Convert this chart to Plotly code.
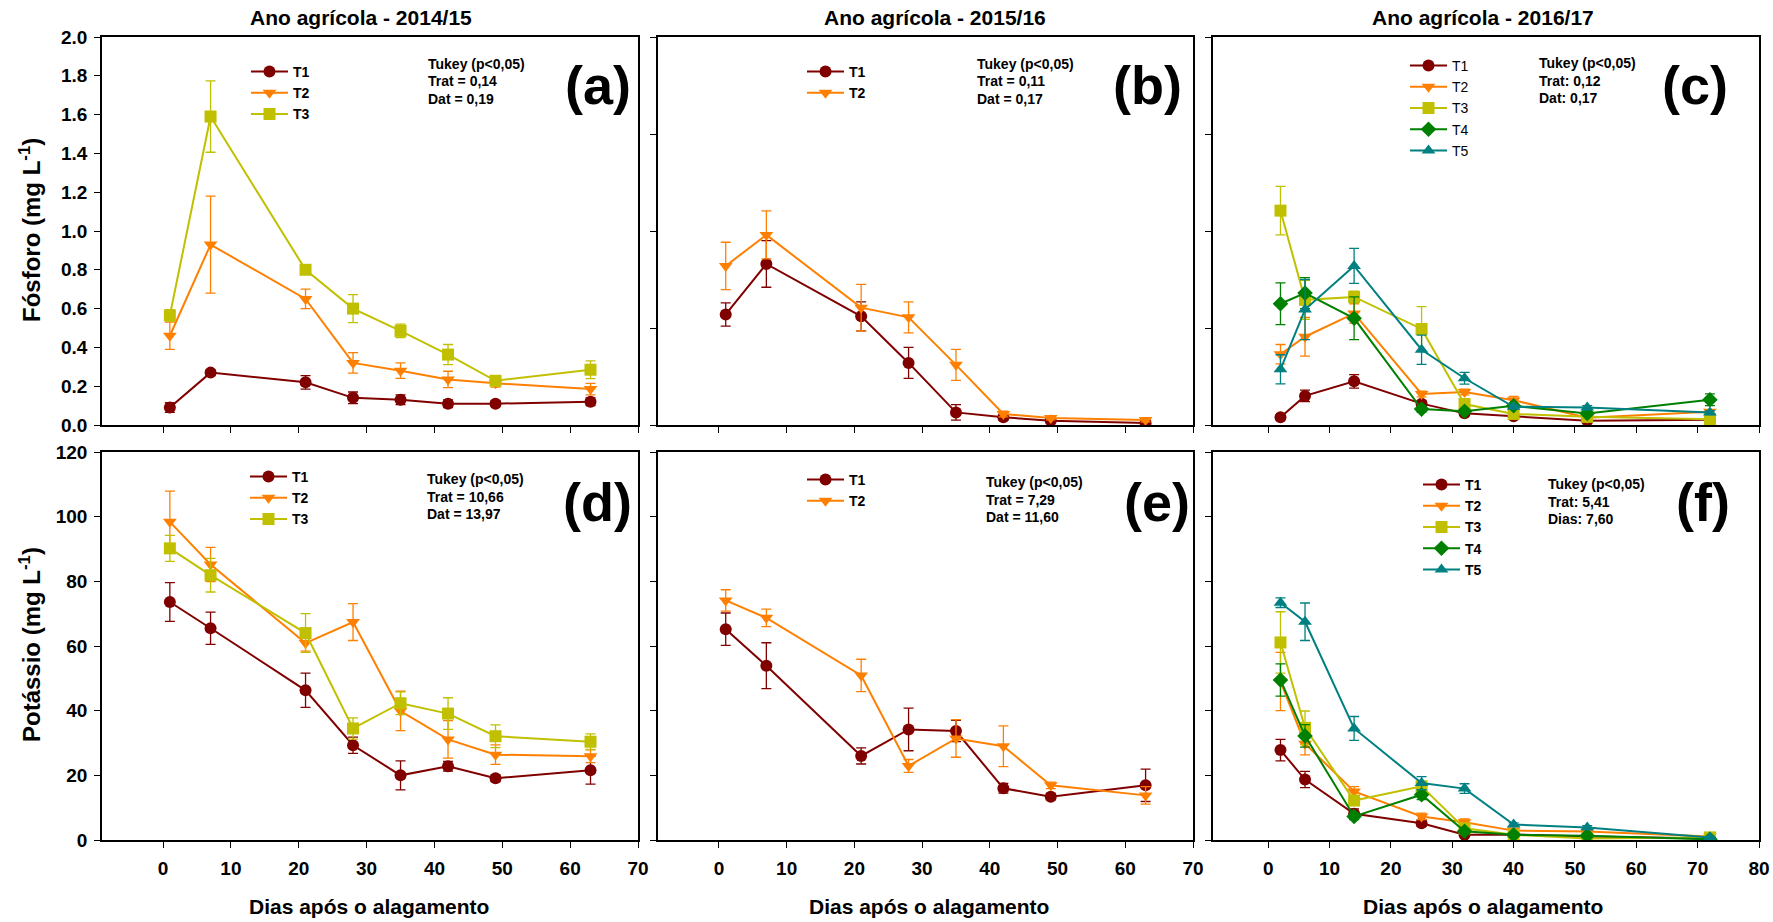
import plotly.graph_objects as go

W, H = 1773, 922

# Sampling days after flooding
days_14 = [1, 7, 21, 28, 35, 42, 49, 63]
days_15 = [1, 7, 21, 28, 35, 42, 49, 63]
days_16 = [2, 6, 14, 25, 32, 40, 52, 72]

# Phosphorus (mg L-1), 2014/15
p14_t1 = [0.09, 0.27, 0.22, 0.14, 0.13, 0.11, 0.11, 0.12]
p14_t1_se = [0.025, 0.015, 0.035, 0.03, 0.025, 0.02, 0.015, 0.02]
p14_t2 = [0.46, 0.93, 0.65, 0.32, 0.28, 0.235, 0.215, 0.185]
p14_t2_se = [0.07, 0.25, 0.05, 0.053, 0.04, 0.042, 0.02, 0.03]
p14_t3 = [0.565, 1.59, 0.80, 0.60, 0.485, 0.363, 0.228, 0.285]
p14_t3_se = [0.03, 0.184, 0.015, 0.072, 0.035, 0.052, 0.02, 0.046]

# Phosphorus (mg L-1), 2015/16
p15_t1 = [0.57, 0.83, 0.56, 0.32, 0.065, 0.04, 0.022, 0.01]
p15_t1_se = [0.06, 0.12, 0.075, 0.08, 0.04, 0.015, 0.01, 0.008]
p15_t2 = [0.82, 0.98, 0.605, 0.555, 0.31, 0.057, 0.036, 0.026]
p15_t2_se = [0.122, 0.124, 0.12, 0.08, 0.08, 0.015, 0.01, 0.01]

# Phosphorus (mg L-1), 2016/17
p16_t1 = [0.04, 0.15, 0.225, 0.11, 0.06, 0.045, 0.022, 0.027]
p16_t1_se = [0.01, 0.03, 0.035, 0.015, 0.01, 0.01, 0.01, 0.01]
p16_t2 = [0.365, 0.455, 0.575, 0.16, 0.17, 0.128, 0.038, 0.068]
p16_t2_se = [0.05, 0.1, 0.05, 0.015, 0.015, 0.02, 0.01, 0.01]
p16_t3 = [1.105, 0.645, 0.66, 0.495, 0.108, 0.057, 0.042, 0.03]
p16_t3_se = [0.125, 0.1, 0.03, 0.115, 0.01, 0.01, 0.01, 0.01]
p16_t4 = [0.625, 0.68, 0.55, 0.082, 0.071, 0.099, 0.059, 0.13]
p16_t4_se = [0.108, 0.08, 0.11, 0.015, 0.01, 0.01, 0.01, 0.03]
p16_t5 = [0.287, 0.595, 0.82, 0.388, 0.241, 0.094, 0.09, 0.064]
p16_t5_se = [0.075, 0.155, 0.09, 0.075, 0.03, 0.01, 0.01, 0.01]

# Potassium (mg L-1), 2014/15
k14_t1 = [73.6, 65.5, 46.3, 29.3, 20.0, 22.8, 19.1, 21.6]
k14_t1_se = [6, 5, 5.3, 2.5, 4.5, 1.5, 1, 4.3]
k14_t2 = [98.4, 85.2, 60.9, 67.4, 39.9, 31.1, 26.4, 25.9]
k14_t2_se = [9.5, 5.3, 2.5, 5.7, 6.1, 5.8, 3.0, 2.0]
k14_t3 = [90.2, 81.9, 64.0, 34.5, 42.3, 39.1, 32.1, 30.4]
k14_t3_se = [4, 5.2, 6, 3.3, 3.5, 4.9, 3.5, 2.4]

# Potassium (mg L-1), 2015/16
k15_t1 = [65.2, 53.9, 26.0, 34.2, 33.7, 16.0, 13.4, 16.9]
k15_t1_se = [5, 7.1, 2.5, 6.6, 3.3, 1.5, 1, 5]
k15_t2 = [74.1, 68.7, 50.9, 22.9, 31.4, 29.0, 16.9, 13.8]
k15_t2_se = [3.3, 2.7, 5, 2, 5.8, 6.3, 1, 2.7]

# Potassium (mg L-1), 2016/17
k16_t1 = [27.8, 18.7, 8.1, 5.2, 1.6, 1.7, 1.1, 0.5]
k16_t1_se = [3.3, 2.5, 1.5, 1, 0.5, 0.5, 0.5, 0.3]
k16_t2 = [49.0, 29.8, 15.0, 7.3, 5.5, 2.9, 2.6, 1.1]
k16_t2_se = [9, 3.5, 1.5, 1, 1, 0.5, 0.5, 0.3]
k16_t3 = [61.1, 34.7, 12.2, 16.6, 3.6, 1.6, 0.5, 0.8]
k16_t3_se = [9.5, 5.2, 1.5, 1, 0.5, 0.5, 0.3, 0.3]
k16_t4 = [49.5, 32.2, 7.3, 14.0, 2.7, 1.6, 1.3, 0.2]
k16_t4_se = [5, 3.5, 1, 1.5, 0.5, 0.5, 0.3, 0.2]
k16_t5 = [73.4, 67.5, 34.5, 17.6, 15.9, 4.8, 3.9, 0.8]
k16_t5_se = [1.5, 5.8, 3.7, 2, 1.5, 0.5, 0.5, 0.3]

season_titles = ["Ano agrícola - 2014/15", "Ano agrícola - 2015/16", "Ano agrícola - 2016/17"]
panel_tags = ["(a)", "(b)", "(c)", "(d)", "(e)", "(f)"]
tukey_lines = [
    ["Tukey (p<0,05)", "Trat = 0,14", "Dat = 0,19"],
    ["Tukey (p<0,05)", "Trat = 0,11", "Dat = 0,17"],
    ["Tukey (p<0,05)", "Trat: 0,12", "Dat: 0,17"],
    ["Tukey (p<0,05)", "Trat = 10,66", "Dat = 13,97"],
    ["Tukey (p<0,05)", "Trat = 7,29", "Dat = 11,60"],
    ["Tukey (p<0,05)", "Trat: 5,41", "Dias: 7,60"],
]

# Treatment styles
STYLE = {
    "T1": dict(color="#800000", symbol="circle"),
    "T2": dict(color="#FF8000", symbol="triangle-down"),
    "T3": dict(color="#C0C000", symbol="square"),
    "T4": dict(color="#008000", symbol="diamond"),
    "T5": dict(color="#008080", symbol="triangle-up"),
}

FONT = "Liberation Sans, Arial, Helvetica, sans-serif"

# Panel frames in pixels: (left, right), (top, bottom)
cols_px = [(102, 638), (658, 1193), (1213, 1759)]
rows_px = [(37, 425), (452, 840)]


def px(x):
    return x / W


def py(y):
    return 1 - y / H


panels = [
    (days_14, [("T1", p14_t1, p14_t1_se), ("T2", p14_t2, p14_t2_se), ("T3", p14_t3, p14_t3_se)]),
    (days_15, [("T1", p15_t1, p15_t1_se), ("T2", p15_t2, p15_t2_se)]),
    (days_16, [("T1", p16_t1, p16_t1_se), ("T2", p16_t2, p16_t2_se), ("T3", p16_t3, p16_t3_se),
               ("T4", p16_t4, p16_t4_se), ("T5", p16_t5, p16_t5_se)]),
    (days_14, [("T1", k14_t1, k14_t1_se), ("T2", k14_t2, k14_t2_se), ("T3", k14_t3, k14_t3_se)]),
    (days_15, [("T1", k15_t1, k15_t1_se), ("T2", k15_t2, k15_t2_se)]),
    (days_16, [("T1", k16_t1, k16_t1_se), ("T2", k16_t2, k16_t2_se), ("T3", k16_t3, k16_t3_se),
               ("T4", k16_t4, k16_t4_se), ("T5", k16_t5, k16_t5_se)]),
]

# Legend anchor (left, top), Tukey first-line centre and tag right/centre, in pixels
legend_px = [(246, 56), (802, 56), (1405, 50), (245, 461), (802, 464), (1418, 469)]
legend_weight = ["bold", "bold", "normal", "bold", "bold", "bold"]
tukey_px = [(426, 64), (975, 64), (1537, 63), (425, 479), (984, 482), (1546, 484)]
tag_px = [(633, 85), (1184, 85), (1730, 85), (634, 502), (1192, 502), (1732, 502)]
TUKEY_STEP = 17.5

fig = go.Figure()
layout = dict(
    width=W, height=H, margin=dict(l=0, r=0, t=0, b=0, autoexpand=False),
    plot_bgcolor="white", paper_bgcolor="white", showlegend=True,
)
annotations = []

for i, (days, series) in enumerate(panels):
    r, c = divmod(i, 3)
    n = i + 1
    xname = "x" if n == 1 else f"x{n}"
    yname = "y" if n == 1 else f"y{n}"
    lname = "legend" if n == 1 else f"legend{n}"
    for name, vals, se in series:
        st = STYLE[name]
        fig.add_trace(go.Scatter(
            x=days, y=vals, name=name, mode="lines+markers",
            xaxis=xname, yaxis=yname, legend=lname,
            line=dict(color=st["color"], width=2),
            marker=dict(color=st["color"], symbol=st["symbol"], size=12,
                        line=dict(width=0)),
            error_y=dict(type="data", array=se, visible=True,
                         color=st["color"], thickness=1.3, width=5),
        ))

    left, right = cols_px[c]
    top, bottom = rows_px[r]
    is_top = r == 0
    xmax = 80 if c == 2 else 70
    xa = dict(
        domain=[px(left), px(right)], range=[-9, xmax],
        tickvals=list(range(0, xmax + 1, 10)),
        showticklabels=not is_top,
        ticks="outside", ticklen=6, tickwidth=1.2, tickcolor="black",
        showline=True, linecolor="black", linewidth=1.5, mirror=True,
        showgrid=False, zeroline=False, anchor=yname,
        tickfont=dict(family=FONT, size=19, color="black", weight="bold"),
        ticklabelstandoff=4,
    )
    if is_top:
        ya_range, ya_dtick = [0, 2.0], (0.2 if c == 0 else 0.5)
    else:
        ya_range, ya_dtick = [0, 120], 20
    ya = dict(
        domain=[py(bottom), py(top)], range=ya_range, dtick=ya_dtick,
        tickformat=".1f" if is_top else "d",
        showticklabels=(c == 0),
        ticks="outside", ticklen=6, tickwidth=1.2, tickcolor="black",
        showline=True, linecolor="black", linewidth=1.5, mirror=True,
        showgrid=False, zeroline=False, anchor=xname,
        tickfont=dict(family=FONT, size=19, color="black", weight="bold"),
        ticklabelstandoff=3,
    )
    layout["xaxis" if n == 1 else f"xaxis{n}"] = xa
    layout["yaxis" if n == 1 else f"yaxis{n}"] = ya

    lx, ly = legend_px[i]
    layout[lname] = dict(
        x=px(lx), y=py(ly), xanchor="left", yanchor="top",
        bgcolor="rgba(0,0,0,0)", borderwidth=0, itemwidth=37,
        font=dict(family=FONT, size=14, color="black", weight=legend_weight[i]),
        tracegroupgap=0,
    )

    tx, ty = tukey_px[i]
    for k, line in enumerate(tukey_lines[i]):
        annotations.append(dict(
            x=px(tx), y=py(ty + k * TUKEY_STEP), xref="paper", yref="paper",
            xanchor="left", yanchor="middle",
            text=line, showarrow=False, align="left",
            font=dict(family=FONT, size=14, color="black", weight="bold"),
        ))
    gx, gy = tag_px[i]
    annotations.append(dict(
        x=px(gx), y=py(gy), xref="paper", yref="paper", xanchor="right", yanchor="middle",
        text=panel_tags[i], showarrow=False,
        font=dict(family=FONT, size=54, color="black", weight="bold"),
    ))

# Season titles above the columns
for c, title in enumerate(season_titles):
    cx = [361, 935, 1483][c]
    annotations.append(dict(
        x=px(cx), y=py(18), xref="paper", yref="paper", xanchor="center", yanchor="middle",
        text=title, showarrow=False,
        font=dict(family=FONT, size=21, color="black", weight="bold"),
    ))

# X-axis titles under the bottom row
for c in range(3):
    cx = [369, 929, 1483][c]
    annotations.append(dict(
        x=px(cx), y=py(906), xref="paper", yref="paper", xanchor="center", yanchor="middle",
        text="Dias após o alagamento", showarrow=False,
        font=dict(family=FONT, size=21, color="black", weight="bold"),
    ))

# Y-axis titles
annotations.append(dict(
    x=px(30), y=py(230), xref="paper", yref="paper", xanchor="center", yanchor="middle",
    text="Fósforo (mg L<sup>-1</sup>)", showarrow=False, textangle=-90,
    font=dict(family=FONT, size=24, color="black", weight="bold"),
))
annotations.append(dict(
    x=px(30), y=py(645), xref="paper", yref="paper", xanchor="center", yanchor="middle",
    text="Potássio (mg L<sup>-1</sup>)", showarrow=False, textangle=-90,
    font=dict(family=FONT, size=24, color="black", weight="bold"),
))

layout["annotations"] = annotations
fig.update_layout(**layout)
fig.write_html("out.html")
